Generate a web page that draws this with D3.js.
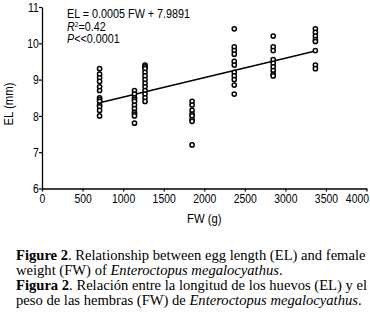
<!DOCTYPE html>
<html>
<head>
<meta charset="utf-8">
<script src="https://cdn.jsdelivr.net/npm/d3@7"></script>
<style>
	body { margin: 0; background: #fff; }
	svg text { fill: #000; }
	.ax { font-family: "Liberation Sans", Arial, sans-serif; }
	.cap { font-family: "Liberation Serif", "Times New Roman", serif; font-size: 14.6px; }
</style>
</head>
<body>
<svg id="svg_el" width="370" height="315"></svg>
<script>
// egg length (mm) per female, grouped by female weight (g)
var fwGroups = [710, 1140, 1270, 1850, 2370, 2850, 3370];
var elGroups = [
	[9.3, 9.15, 9.05, 8.95, 8.8, 8.7, 8.5, 8.45, 8.4, 8.3, 8.25, 8.15, 8.0],
	[8.7, 8.6, 8.5, 8.45, 8.4, 8.3, 8.2, 8.1, 8.05, 8.0, 7.8],
	[9.4, 9.35, 9.3, 9.2, 9.1, 9.0, 8.9, 8.8, 8.7, 8.6, 8.5, 8.4],
	[8.4, 8.3, 8.15, 8.05, 8.0, 7.9, 7.85, 7.2],
	[10.4, 9.9, 9.8, 9.7, 9.5, 9.4, 9.2, 9.1, 9.0, 8.85, 8.6],
	[10.2, 9.9, 9.8, 9.55, 9.45, 9.35, 9.25, 9.15, 9.1],
	[10.4, 10.3, 10.2, 10.1, 10.05, 9.8, 9.4, 9.3]
];
var fitFW = [710, 3370];
var fitEL = [8.36, 9.79];
var xTicks = [0, 500, 1000, 1500, 2000, 2500, 3000, 3500, 4000];
var yTicks = [6, 7, 8, 9, 10, 11];
var statLines = ["EL = 0.0005 FW + 7.9891", "R2=0.42", "P<<0.0001"];
var captionLines = [
	[["b", "Figure 2"], ["n", ". Relationship between egg length (EL) and female"]],
	[["n", "weight (FW) of "], ["i", "Enteroctopus megalocyathus"], ["n", "."]],
	[["b", "Figura 2"], ["n", ". Relación entre la longitud de los huevos (EL) y el"]],
	[["n", "peso de las hembras (FW) de "], ["i", "Enteroctopus megalocyathus"], ["n", "."]]
];

var narrow = 0.8;

function renderChart() {
	var svg = d3.select("#svg_el"),
		margin = { top: 7, left: 42, right: 3.5, bottom: 126.5 },
		width = +svg.attr("width"),
		height = +svg.attr("height");

	var x = d3.scaleLinear().domain([0, 4000]).range([margin.left, width - margin.right]);
	var y = d3.scaleLinear().domain([6, 11]).range([height - margin.bottom, margin.top]);

	var g_x = svg.append("g").attr("class", "ax")
		.attr("transform", "translate(0," + y(6) + ")")
		.call(d3.axisBottom(x).tickValues(xTicks).tickFormat(d3.format("d"))
			.tickSize(3).tickPadding(2).tickSizeOuter(0));
	var g_y = svg.append("g").attr("class", "ax")
		.attr("transform", "translate(" + x(0) + ",0)")
		.call(d3.axisLeft(y).tickValues(yTicks).tickFormat(d3.format("d"))
			.tickSize(3).tickPadding(1).tickSizeOuter(0));
	[g_x, g_y].forEach(function(g) {
		g.attr("font-family", null).attr("font-size", null);
		g.select(".domain").attr("stroke", "#000").attr("stroke-width", 1.3);
		g.selectAll(".tick line").attr("stroke", "#000").attr("stroke-width", 1.2);
		g.selectAll(".tick text").attr("font-size", 13).attr("fill", "#000")
			.attr("transform", "scale(" + narrow + ",1)");
	});
	g_x.selectAll(".tick text").attr("dy", "0.74em");
	// last label pulled inside the frame as in the original
	g_x.selectAll(".tick text").filter(function(d) { return d == 4000; })
		.attr("text-anchor", "end").attr("x", 2 / narrow);

	var fwLab = svg.append("g").attr("class", "ax")
		.attr("transform", "translate(" + x(2000) + ",223) scale(0.87,1)");
	fwLab.append("text").attr("text-anchor", "middle").attr("font-size", 13).text("FW (g)");
	var elLab = svg.append("g").attr("class", "ax")
		.attr("transform", "translate(12.5,104) rotate(-90) scale(0.87,1)");
	elLab.append("text").attr("text-anchor", "middle").attr("font-size", 13).text("EL (mm)");

	// regression line
	var line = d3.line()
		.x(function(d, i) { return x(fitFW[i]); })
		.y(function(d) { return y(d); });
	svg.append("path").attr("d", line(fitEL))
		.attr("fill", "none").attr("stroke", "#000").attr("stroke-width", 1.6);

	var pts = [];
	for (var i = 0; i < fwGroups.length; ++i) {
		for (var j = 0; j < elGroups[i].length; ++j) {
			pts.push({ fw: fwGroups[i], el: elGroups[i][j] });
		}
	}
	svg.append("g").selectAll("circle").data(pts).enter().append("circle")
		.attr("cx", function(d) { return x(d.fw); })
		.attr("cy", function(d) { return y(d.el); })
		.attr("r", 2.1)
		.attr("fill", "#fff").attr("stroke", "#000").attr("stroke-width", 1.5);

	// stats annotation
	var st = svg.append("g").attr("class", "ax")
		.attr("transform", "translate(67,0) scale(0.83,1)").attr("font-size", 13);
	st.append("text").attr("x", 0).attr("y", 18).text(statLines[0]);
	var r2 = st.append("text").attr("x", 0).attr("y", 31);
	r2.append("tspan").attr("font-style", "italic").text(statLines[1].charAt(0));
	r2.append("tspan").attr("dy", -4).attr("font-size", 8).text(statLines[1].charAt(1));
	r2.append("tspan").attr("dy", 4).text(statLines[1].slice(2));
	var p = st.append("text").attr("x", 0).attr("y", 43.5);
	p.append("tspan").attr("font-style", "italic").text(statLines[2].charAt(0));
	p.append("tspan").text(statLines[2].slice(1));

	// caption
	var cap = svg.append("g").attr("class", "cap");
	captionLines.forEach(function(parts, k) {
		var t = cap.append("text").attr("x", 16).attr("y", 260 + k * 15);
		parts.forEach(function(pt) {
			var s = t.append("tspan").text(pt[1]);
			if (pt[0] == "b") s.attr("font-weight", "bold");
			if (pt[0] == "i") s.attr("font-style", "italic");
		});
	});
}

renderChart();
</script>
</body>
</html>
